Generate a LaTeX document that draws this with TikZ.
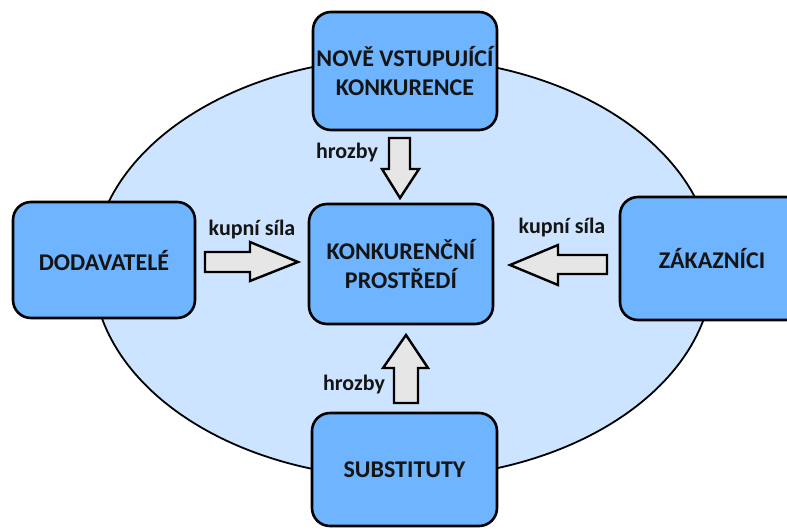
\documentclass[tikz,border=0pt]{standalone}
\usepackage{fontspec}
\setmainfont{Carlito}
\usetikzlibrary{shapes.geometric}
\definecolor{boxblue}{RGB}{110,180,255}
\definecolor{envblue}{RGB}{204,228,255}
\definecolor{arrowgrey}{RGB}{230,230,230}
\definecolor{txt}{RGB}{20,20,20}
\begin{document}
\begin{tikzpicture}[x=1pt,y=-1pt,
  box/.style={draw=black, line width=2.6pt, fill=boxblue, rounded corners=18pt,
    font=\fontsize{24}{29}\selectfont\bfseries, text=txt, align=center, inner sep=0pt},
  lab/.style={font=\fontsize{22}{26}\selectfont\bfseries, text=txt, inner sep=0pt},
  blockarrow/.style={draw=black, fill=arrowgrey, line width=2.4pt, line join=miter}]
\useasboundingbox (0,0) rectangle (787,528);
% environment ellipse
\node[ellipse, draw=black, line width=1.8pt, fill=envblue,
  minimum width=620pt, minimum height=420pt, inner sep=0pt] (env) at (403,268) {};
% boxes
\node[box, minimum width=184pt, minimum height=118pt] (new) at (405,71) {NOVĚ VSTUPUJÍCÍ\\KONKURENCE};
\node[box, minimum width=182pt, minimum height=116pt] (sup) at (104,260) {DODAVATELÉ};
\node[box, minimum width=184pt, minimum height=123pt] (cus) at (712,258.5) {ZÁKAZNÍCI};
\node[box, minimum width=185pt, minimum height=113pt] (sub) at (404.5,469.5) {SUBSTITUTY};
\node[box, minimum width=184pt, minimum height=120pt] (ctr) at (401,264) {KONKURENČNÍ\\PROSTŘEDÍ};
% block arrows (tips named)
\coordinate (ttop) at (400,198);
\coordinate (tleft) at (298,262);
\coordinate (tright) at (510,265);
\coordinate (tbot) at (406,335);
\draw[blockarrow] (ttop) -- (382,169) -- (389,169) -- (389,138) -- (410,138) -- (410,169) -- (419,169) -- cycle;
\draw[blockarrow] (tleft) -- (250,281) -- (250,272) -- (205,272) -- (205,252) -- (250,252) -- (250,242) -- cycle;
\draw[blockarrow] (tright) -- (558,245) -- (558,255) -- (607,255) -- (607,274) -- (558,274) -- (558,285) -- cycle;
\draw[blockarrow] (tbot) -- (428,368) -- (418,368) -- (418,403) -- (394,403) -- (394,368) -- (383,368) -- cycle;
% labels
\node[lab] (ltop) at (347,153) {hrozby};
\node[lab] (lleft) at (252,230) {kupní síla};
\node[lab] (lright) at (562,228) {kupní síla};
\node[lab] (lbot) at (354,385) {hrozby};
\end{tikzpicture}
\end{document}
